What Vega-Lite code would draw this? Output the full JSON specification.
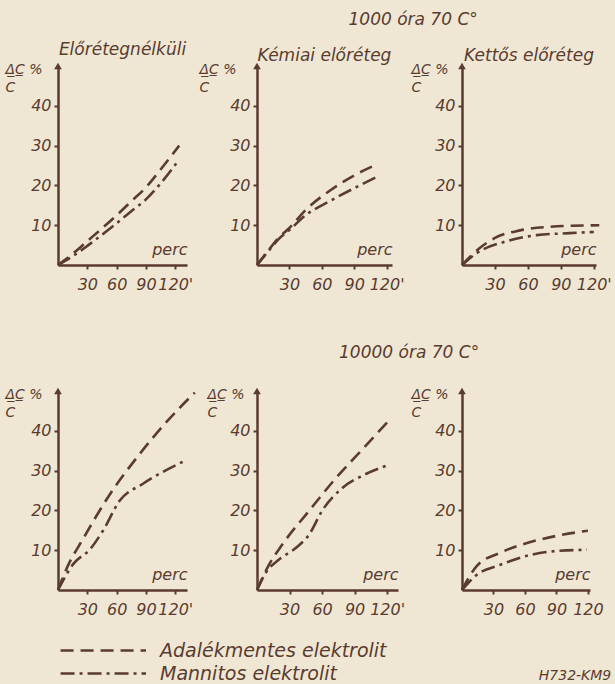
{
  "$schema": "https://vega.github.io/schema/vega-lite/v6.json",
  "background": "#efe7d3",
  "padding": {"left": 5, "top": 11, "right": 5, "bottom": 0},
  "datasets": {
    "curves": [
      {"panel": "p1", "series": "Adalékmentes elektrolit", "perc": 0, "dc": 0},
      {"panel": "p1", "series": "Adalékmentes elektrolit", "perc": 15, "dc": 2.8},
      {"panel": "p1", "series": "Adalékmentes elektrolit", "perc": 30, "dc": 6},
      {"panel": "p1", "series": "Adalékmentes elektrolit", "perc": 45, "dc": 9.2},
      {"panel": "p1", "series": "Adalékmentes elektrolit", "perc": 60, "dc": 12.5},
      {"panel": "p1", "series": "Adalékmentes elektrolit", "perc": 75, "dc": 16},
      {"panel": "p1", "series": "Adalékmentes elektrolit", "perc": 90, "dc": 19.5},
      {"panel": "p1", "series": "Adalékmentes elektrolit", "perc": 105, "dc": 24},
      {"panel": "p1", "series": "Adalékmentes elektrolit", "perc": 124, "dc": 30},
      {"panel": "p1", "series": "Mannitos elektrolit", "perc": 0, "dc": 0},
      {"panel": "p1", "series": "Mannitos elektrolit", "perc": 15, "dc": 2.2},
      {"panel": "p1", "series": "Mannitos elektrolit", "perc": 30, "dc": 4.8},
      {"panel": "p1", "series": "Mannitos elektrolit", "perc": 45, "dc": 7.6},
      {"panel": "p1", "series": "Mannitos elektrolit", "perc": 60, "dc": 10.5},
      {"panel": "p1", "series": "Mannitos elektrolit", "perc": 75, "dc": 13.5},
      {"panel": "p1", "series": "Mannitos elektrolit", "perc": 90, "dc": 16.5},
      {"panel": "p1", "series": "Mannitos elektrolit", "perc": 105, "dc": 20.5},
      {"panel": "p1", "series": "Mannitos elektrolit", "perc": 121, "dc": 25.5},
      {"panel": "p2", "series": "Adalékmentes elektrolit", "perc": 0, "dc": 0},
      {"panel": "p2", "series": "Adalékmentes elektrolit", "perc": 10, "dc": 3.5},
      {"panel": "p2", "series": "Adalékmentes elektrolit", "perc": 20, "dc": 6.8},
      {"panel": "p2", "series": "Adalékmentes elektrolit", "perc": 30, "dc": 9.3},
      {"panel": "p2", "series": "Adalékmentes elektrolit", "perc": 45, "dc": 13.8},
      {"panel": "p2", "series": "Adalékmentes elektrolit", "perc": 67, "dc": 18.6},
      {"panel": "p2", "series": "Adalékmentes elektrolit", "perc": 90, "dc": 22.5},
      {"panel": "p2", "series": "Adalékmentes elektrolit", "perc": 112, "dc": 25.4},
      {"panel": "p2", "series": "Mannitos elektrolit", "perc": 0, "dc": 0},
      {"panel": "p2", "series": "Mannitos elektrolit", "perc": 10, "dc": 3.3},
      {"panel": "p2", "series": "Mannitos elektrolit", "perc": 20, "dc": 6.5},
      {"panel": "p2", "series": "Mannitos elektrolit", "perc": 30, "dc": 8.8},
      {"panel": "p2", "series": "Mannitos elektrolit", "perc": 45, "dc": 12.5},
      {"panel": "p2", "series": "Mannitos elektrolit", "perc": 67, "dc": 16},
      {"panel": "p2", "series": "Mannitos elektrolit", "perc": 90, "dc": 19.3},
      {"panel": "p2", "series": "Mannitos elektrolit", "perc": 110, "dc": 22},
      {"panel": "p3", "series": "Adalékmentes elektrolit", "perc": 0, "dc": 0},
      {"panel": "p3", "series": "Adalékmentes elektrolit", "perc": 15, "dc": 4},
      {"panel": "p3", "series": "Adalékmentes elektrolit", "perc": 30, "dc": 6.8},
      {"panel": "p3", "series": "Adalékmentes elektrolit", "perc": 53, "dc": 8.7},
      {"panel": "p3", "series": "Adalékmentes elektrolit", "perc": 80, "dc": 9.6},
      {"panel": "p3", "series": "Adalékmentes elektrolit", "perc": 125, "dc": 10},
      {"panel": "p3", "series": "Mannitos elektrolit", "perc": 0, "dc": 0},
      {"panel": "p3", "series": "Mannitos elektrolit", "perc": 13.5, "dc": 3},
      {"panel": "p3", "series": "Mannitos elektrolit", "perc": 41, "dc": 6},
      {"panel": "p3", "series": "Mannitos elektrolit", "perc": 68, "dc": 7.5},
      {"panel": "p3", "series": "Mannitos elektrolit", "perc": 98, "dc": 8},
      {"panel": "p3", "series": "Mannitos elektrolit", "perc": 120, "dc": 8.3},
      {"panel": "p4", "series": "Adalékmentes elektrolit", "perc": 0, "dc": 0},
      {"panel": "p4", "series": "Adalékmentes elektrolit", "perc": 9, "dc": 5.5},
      {"panel": "p4", "series": "Adalékmentes elektrolit", "perc": 26, "dc": 13},
      {"panel": "p4", "series": "Adalékmentes elektrolit", "perc": 53, "dc": 24},
      {"panel": "p4", "series": "Adalékmentes elektrolit", "perc": 84, "dc": 34.3},
      {"panel": "p4", "series": "Adalékmentes elektrolit", "perc": 112, "dc": 42.5},
      {"panel": "p4", "series": "Adalékmentes elektrolit", "perc": 140, "dc": 49.6},
      {"panel": "p4", "series": "Mannitos elektrolit", "perc": 0, "dc": 0},
      {"panel": "p4", "series": "Mannitos elektrolit", "perc": 15.5, "dc": 6.5},
      {"panel": "p4", "series": "Mannitos elektrolit", "perc": 33, "dc": 10.3},
      {"panel": "p4", "series": "Mannitos elektrolit", "perc": 46, "dc": 14.9},
      {"panel": "p4", "series": "Mannitos elektrolit", "perc": 63, "dc": 22.4},
      {"panel": "p4", "series": "Mannitos elektrolit", "perc": 87, "dc": 26.7},
      {"panel": "p4", "series": "Mannitos elektrolit", "perc": 130, "dc": 32.5},
      {"panel": "p5", "series": "Adalékmentes elektrolit", "perc": 0, "dc": 0},
      {"panel": "p5", "series": "Adalékmentes elektrolit", "perc": 11, "dc": 6.3},
      {"panel": "p5", "series": "Adalékmentes elektrolit", "perc": 23, "dc": 11.3},
      {"panel": "p5", "series": "Adalékmentes elektrolit", "perc": 48, "dc": 19.9},
      {"panel": "p5", "series": "Adalékmentes elektrolit", "perc": 73, "dc": 28.2},
      {"panel": "p5", "series": "Adalékmentes elektrolit", "perc": 97, "dc": 35.3},
      {"panel": "p5", "series": "Adalékmentes elektrolit", "perc": 124, "dc": 43.3},
      {"panel": "p5", "series": "Mannitos elektrolit", "perc": 0, "dc": 0},
      {"panel": "p5", "series": "Mannitos elektrolit", "perc": 8, "dc": 4.3},
      {"panel": "p5", "series": "Mannitos elektrolit", "perc": 20, "dc": 7.6},
      {"panel": "p5", "series": "Mannitos elektrolit", "perc": 36, "dc": 10.6},
      {"panel": "p5", "series": "Mannitos elektrolit", "perc": 48, "dc": 13.9},
      {"panel": "p5", "series": "Mannitos elektrolit", "perc": 60, "dc": 19.9},
      {"panel": "p5", "series": "Mannitos elektrolit", "perc": 79, "dc": 25.7},
      {"panel": "p5", "series": "Mannitos elektrolit", "perc": 97, "dc": 28.7},
      {"panel": "p5", "series": "Mannitos elektrolit", "perc": 119, "dc": 31.2},
      {"panel": "p6", "series": "Adalékmentes elektrolit", "perc": 0, "dc": 0},
      {"panel": "p6", "series": "Adalékmentes elektrolit", "perc": 14, "dc": 6},
      {"panel": "p6", "series": "Adalékmentes elektrolit", "perc": 36, "dc": 9.3},
      {"panel": "p6", "series": "Adalékmentes elektrolit", "perc": 62, "dc": 11.8},
      {"panel": "p6", "series": "Adalékmentes elektrolit", "perc": 90, "dc": 13.6},
      {"panel": "p6", "series": "Adalékmentes elektrolit", "perc": 120, "dc": 14.9},
      {"panel": "p6", "series": "Mannitos elektrolit", "perc": 0, "dc": 0},
      {"panel": "p6", "series": "Mannitos elektrolit", "perc": 14, "dc": 3.8},
      {"panel": "p6", "series": "Mannitos elektrolit", "perc": 36, "dc": 6.3},
      {"panel": "p6", "series": "Mannitos elektrolit", "perc": 62, "dc": 8.6},
      {"panel": "p6", "series": "Mannitos elektrolit", "perc": 90, "dc": 9.8},
      {"panel": "p6", "series": "Mannitos elektrolit", "perc": 119, "dc": 10.1}
    ],
    "legendrows": [
      {"series": "Adalékmentes elektrolit"},
      {"series": "Mannitos elektrolit"}
    ]
  },
  "title": {"text": "H732-KM9", "orient": "bottom", "anchor": "end", "fontSize": 14, "fontStyle": "italic", "offset": -16},
  "spacing": 22,
  "vconcat": [
    {
      "spacing": 52,
      "vconcat": [
        {
          "title": {"text": "1000 óra  70 C°", "anchor": "middle", "dx": 105, "offset": 12},
          "spacing": 6,
          "hconcat": [
            {
              "width": 129, "height": 199,
              "title": {"text": "Előrétegnélküli", "dy": 3},
              "data": {"name": "curves"},
              "transform": [{"filter": "datum.panel === 'p1'"}],
              "layer": [
                {"mark": {"type": "line", "interpolate": "monotone", "strokeWidth": 2.6, "color": "#5a3b30"},
                 "encoding": {
                   "x": {"field": "perc", "type": "quantitative", "scale": {"domain": [0, 132], "nice": false}, "axis": {"values": [30, 60, 90, 120], "labelExpr": "datum.value == 120 ? \"120'\" : datum.label", "title": "perc"}},
                   "y": {"field": "dc", "type": "quantitative", "scale": {"domain": [0, 50], "nice": false}, "axis": {"values": [10, 20, 30, 40], "title": ["Δ̲C̲ %", " C"], "titleX": -53}},
                   "strokeDash": {"field": "series", "type": "nominal", "legend": null, "scale": {"domain": ["Adalékmentes elektrolit", "Mannitos elektrolit"], "range": [[13, 7], [14, 5, 3, 5]]}}
                 }},
                {"data": {"values": [{}]}, "mark": {"type": "point", "shape": "triangle-up", "filled": true, "size": 60, "opacity": 1, "color": "#5a3b30"},
                 "encoding": {"x": {"datum": 0, "type": "quantitative"}, "y": {"datum": 50, "type": "quantitative"}}}
              ]
            },
            {
              "width": 135, "height": 199,
              "title": {"text": "Kémiai előréteg", "dy": 9},
              "data": {"name": "curves"},
              "transform": [{"filter": "datum.panel === 'p2'"}],
              "layer": [
                {"mark": {"type": "line", "interpolate": "monotone", "strokeWidth": 2.6, "color": "#5a3b30"},
                 "encoding": {
                   "x": {"field": "perc", "type": "quantitative", "scale": {"domain": [0, 125], "nice": false}, "axis": {"values": [30, 60, 90, 120], "labelExpr": "datum.value == 120 ? \"120'\" : datum.label", "title": "perc"}},
                   "y": {"field": "dc", "type": "quantitative", "scale": {"domain": [0, 50], "nice": false}, "axis": {"values": [10, 20, 30, 40], "title": ["Δ̲C̲ %", " C"], "titleX": -58}},
                   "strokeDash": {"field": "series", "type": "nominal", "legend": null, "scale": {"domain": ["Adalékmentes elektrolit", "Mannitos elektrolit"], "range": [[13, 7], [14, 5, 3, 5]]}}
                 }},
                {"data": {"values": [{}]}, "mark": {"type": "point", "shape": "triangle-up", "filled": true, "size": 60, "opacity": 1, "color": "#5a3b30"},
                 "encoding": {"x": {"datum": 0, "type": "quantitative"}, "y": {"datum": 50, "type": "quantitative"}}}
              ]
            },
            {
              "width": 134, "height": 199,
              "title": {"text": "Kettős előréteg", "dy": 9},
              "data": {"name": "curves"},
              "transform": [{"filter": "datum.panel === 'p3'"}],
              "layer": [
                {"mark": {"type": "line", "interpolate": "monotone", "strokeWidth": 2.6, "color": "#5a3b30"},
                 "encoding": {
                   "x": {"field": "perc", "type": "quantitative", "scale": {"domain": [0, 122], "nice": false}, "axis": {"values": [30, 60, 90, 120], "labelExpr": "datum.value == 120 ? \"120'\" : datum.label", "title": "perc"}},
                   "y": {"field": "dc", "type": "quantitative", "scale": {"domain": [0, 50], "nice": false}, "axis": {"values": [10, 20, 30, 40], "title": ["Δ̲C̲ %", " C"], "titleX": -51}},
                   "strokeDash": {"field": "series", "type": "nominal", "legend": null, "scale": {"domain": ["Adalékmentes elektrolit", "Mannitos elektrolit"], "range": [[13, 7], [14, 5, 3, 5]]}}
                 }},
                {"data": {"values": [{}]}, "mark": {"type": "point", "shape": "triangle-up", "filled": true, "size": 60, "opacity": 1, "color": "#5a3b30"},
                 "encoding": {"x": {"datum": 0, "type": "quantitative"}, "y": {"datum": 50, "type": "quantitative"}}}
              ]
            }
          ]
        },
        {
          "title": {"text": "10000 óra  70 C°", "anchor": "middle", "dx": 105, "offset": 25},
          "spacing": 6,
          "hconcat": [
            {
              "width": 129, "height": 199,
              "data": {"name": "curves"},
              "transform": [{"filter": "datum.panel === 'p4'"}],
              "layer": [
                {"mark": {"type": "line", "interpolate": "monotone", "strokeWidth": 2.6, "color": "#5a3b30"},
                 "encoding": {
                   "x": {"field": "perc", "type": "quantitative", "scale": {"domain": [0, 132], "nice": false}, "axis": {"values": [30, 60, 90, 120], "labelExpr": "datum.value == 120 ? \"120'\" : datum.label", "title": "perc"}},
                   "y": {"field": "dc", "type": "quantitative", "scale": {"domain": [0, 50], "nice": false}, "axis": {"values": [10, 20, 30, 40], "title": ["Δ̲C̲ %", " C"], "titleX": -53}},
                   "strokeDash": {"field": "series", "type": "nominal", "legend": null, "scale": {"domain": ["Adalékmentes elektrolit", "Mannitos elektrolit"], "range": [[13, 7], [14, 5, 3, 5]]}}
                 }},
                {"data": {"values": [{}]}, "mark": {"type": "point", "shape": "triangle-up", "filled": true, "size": 60, "opacity": 1, "color": "#5a3b30"},
                 "encoding": {"x": {"datum": 0, "type": "quantitative"}, "y": {"datum": 50, "type": "quantitative"}}}
              ]
            },
            {
              "width": 141, "height": 199,
              "data": {"name": "curves"},
              "transform": [{"filter": "datum.panel === 'p5'"}],
              "layer": [
                {"mark": {"type": "line", "interpolate": "monotone", "strokeWidth": 2.6, "color": "#5a3b30"},
                 "encoding": {
                   "x": {"field": "perc", "type": "quantitative", "scale": {"domain": [0, 130], "nice": false}, "axis": {"values": [30, 60, 90, 120], "labelExpr": "datum.value == 120 ? \"120'\" : datum.label", "title": "perc"}},
                   "y": {"field": "dc", "type": "quantitative", "scale": {"domain": [0, 50], "nice": false}, "axis": {"values": [10, 20, 30, 40], "title": ["Δ̲C̲ %", " C"], "titleX": -50}},
                   "strokeDash": {"field": "series", "type": "nominal", "legend": null, "scale": {"domain": ["Adalékmentes elektrolit", "Mannitos elektrolit"], "range": [[13, 7], [14, 5, 3, 5]]}}
                 }},
                {"data": {"values": [{}]}, "mark": {"type": "point", "shape": "triangle-up", "filled": true, "size": 60, "opacity": 1, "color": "#5a3b30"},
                 "encoding": {"x": {"datum": 0, "type": "quantitative"}, "y": {"datum": 50, "type": "quantitative"}}}
              ]
            },
            {
              "width": 128, "height": 199,
              "data": {"name": "curves"},
              "transform": [{"filter": "datum.panel === 'p6'"}],
              "layer": [
                {"mark": {"type": "line", "interpolate": "monotone", "strokeWidth": 2.6, "color": "#5a3b30"},
                 "encoding": {
                   "x": {"field": "perc", "type": "quantitative", "scale": {"domain": [0, 122], "nice": false}, "axis": {"values": [30, 60, 90, 120], "title": "perc"}},
                   "y": {"field": "dc", "type": "quantitative", "scale": {"domain": [0, 50], "nice": false}, "axis": {"values": [10, 20, 30, 40], "title": ["Δ̲C̲ %", " C"], "titleX": -51}},
                   "strokeDash": {"field": "series", "type": "nominal", "legend": null, "scale": {"domain": ["Adalékmentes elektrolit", "Mannitos elektrolit"], "range": [[13, 7], [14, 5, 3, 5]]}}
                 }},
                {"data": {"values": [{}]}, "mark": {"type": "point", "shape": "triangle-up", "filled": true, "size": 60, "opacity": 1, "color": "#5a3b30"},
                 "encoding": {"x": {"datum": 0, "type": "quantitative"}, "y": {"datum": 50, "type": "quantitative"}}}
              ]
            }
          ]
        }
      ]
    },
    {
      "width": 88, "height": 46,
      "data": {"name": "legendrows"},
      "layer": [
        {"mark": {"type": "rule", "strokeWidth": 2.6, "color": "#5a3b30"},
         "encoding": {
           "x": {"datum": 0, "type": "quantitative", "scale": {"domain": [-0.03, 1], "nice": false, "zero": false}, "axis": null},
           "x2": {"datum": 1},
           "y": {"field": "series", "type": "nominal", "axis": null, "scale": {"paddingInner": 0, "paddingOuter": 0}},
           "strokeDash": {"field": "series", "type": "nominal", "legend": null, "scale": {"domain": ["Adalékmentes elektrolit", "Mannitos elektrolit"], "range": [[16, 7], [20, 5, 3, 5]]}}
         }},
        {"mark": {"type": "text", "align": "left", "baseline": "middle", "dx": 14, "fontSize": 19, "fontStyle": "italic", "color": "#5a3b30"},
         "encoding": {
           "x": {"datum": 1, "type": "quantitative"},
           "y": {"field": "series", "type": "nominal"},
           "text": {"field": "series"}
         }}
      ]
    }
  ],
  "config": {
    "font": "DejaVu Sans",
    "view": {"stroke": null},
    "axis": {
      "grid": false,
      "domainColor": "#5a3b30", "domainWidth": 2.5,
      "tickColor": "#5a3b30", "tickWidth": 2, "tickSize": 4,
      "labelColor": "#5a3b30", "labelFont": "DejaVu Sans", "labelFontStyle": "italic", "labelFontSize": 16, "labelPadding": 3,
      "titleColor": "#5a3b30", "titleFont": "DejaVu Sans", "titleFontStyle": "italic", "titleFontWeight": "normal", "titleFontSize": 16
    },
    "axisX": {"titleAnchor": "end", "titleY": -8, "titleBaseline": "bottom", "labelPadding": 7, "labelFlush": false, "labelOverlap": false},
    "axisY": {"titleAngle": 0, "titleAlign": "left", "titleBaseline": "middle", "titleY": 3, "titleLineHeight": 18, "titleFontSize": 14},
    "title": {"color": "#5a3b30", "font": "DejaVu Sans", "fontStyle": "italic", "fontWeight": "normal", "fontSize": 17, "offset": 6}
  }
}
